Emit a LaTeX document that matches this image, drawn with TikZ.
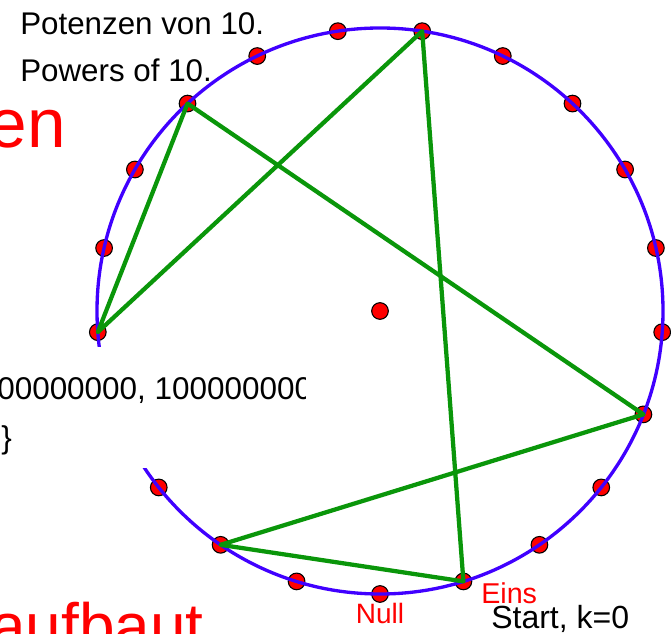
\documentclass[tikz,border=0pt]{standalone}
\usepackage{fontspec}
\setmainfont{Liberation Sans}
\definecolor{ringblue}{RGB}{64,0,255}
\definecolor{powgreen}{RGB}{10,150,10}
\begin{document}
\begin{tikzpicture}[x=0.75pt,y=-0.75pt,
  dot/.style={circle,draw=black,fill=red,line width=0.8pt,inner sep=0pt,minimum size=12.5pt},
  ring/.style={draw=ringblue,line width=2.5pt},
  powline/.style={draw=powgreen,line width=3.2pt,line join=round},
  txt/.style={inner sep=0pt}]
\useasboundingbox (0,0) rectangle (671,634);
\clip (0,0) rectangle (671,634);
% the 21 residues, k=0 at the bottom
\foreach \k in {0,...,16,18,19,20}
    \node[dot] (p\k) at ({380+283*cos(90-\k*360/21)},{311+283*sin(90-\k*360/21)}) {};
\node[dot] (c) at (380,311) {};
\draw[ring] (c.center) circle (283);
% 10^k mod 21
\draw[powline] (p1.center)--(p10.center)--(p16.center)--(p13.center)--(p4.center)--(p19.center)--cycle;
% white panel over the left side
\fill[white] (-5,347) rectangle (305,468);
\begin{scope}
\clip (-5,347) rectangle (305,468);
\node[txt,anchor=base west] (nums) at (-3,400) {\fontsize{23.6}{28}\selectfont 00000000, 100000000};
\end{scope}
\node[txt,anchor=base west] (brace) at (1,448) {\fontsize{23.6}{28}\selectfont \}};
\node[txt,anchor=base west] (titlede) at (20,35) {\fontsize{23.5}{28}\selectfont Potenzen von 10.};
\node[txt,anchor=base west] (titleen) at (20,82) {\fontsize{23.5}{28}\selectfont Powers of 10.};
\node[txt,anchor=base east,text=red] (bigen) at (66,148) {\fontsize{52}{60}\selectfont en};
\node[txt,anchor=base east,text=red] (bigauf) at (204,648) {\fontsize{48}{56}\selectfont aufbaut};
\node[txt,anchor=base,text=red] (nulltxt) at (380,623) {\fontsize{21}{25}\selectfont Null};
\node[txt,anchor=base west,text=red] (einstxt) at (481,603) {\fontsize{21.5}{25}\selectfont Eins};
\node[txt,anchor=base west] (starttxt) at (491,628) {\fontsize{24}{28}\selectfont Start, k=0};
\end{tikzpicture}
\end{document}
